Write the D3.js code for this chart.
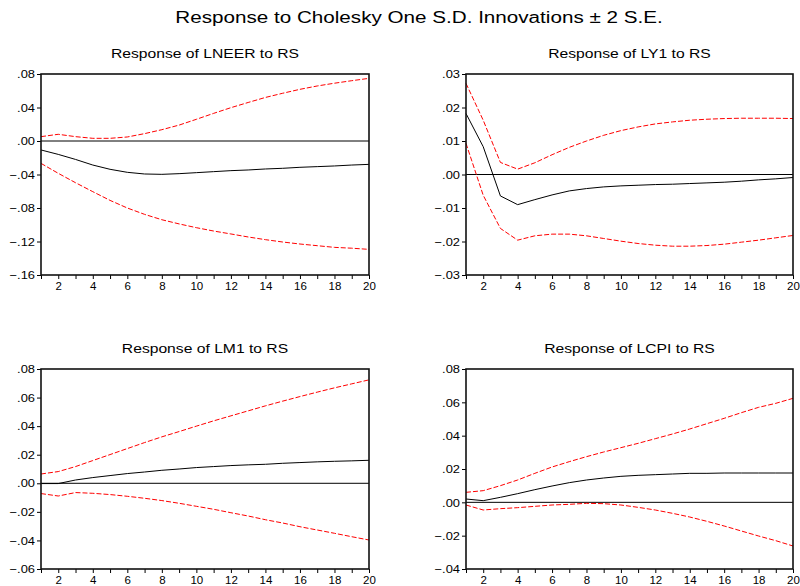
<!DOCTYPE html>
<html>
<head>
<meta charset="utf-8">
<script src="https://cdn.jsdelivr.net/npm/d3@7"></script>
<style>
  body { margin: 0; background: #fff; }
  svg { display: block; font-family: "Liberation Sans", Arial, sans-serif; }
</style>
</head>
<body>
<div id="content"></div>
<script>
// Screen dimensions
var w = 800;
var h = 586;

// periods 1..20
var periods = d3.range(1, 21);

// Response of LNEER to RS
var lneerResp = [-0.0107, -0.016, -0.022, -0.0287, -0.0338, -0.0374, -0.0394, -0.0398, -0.039, -0.0378,
                 -0.0366, -0.0354, -0.0346, -0.0334, -0.0326, -0.0314, -0.0306, -0.0298, -0.0287, -0.0279];
var lneerUp   = [0.0052, 0.008, 0.0052, 0.0032, 0.0032, 0.0048, 0.0088, 0.0135, 0.019, 0.0259,
                 0.033, 0.0398, 0.046, 0.052, 0.057, 0.0617, 0.0657, 0.069, 0.072, 0.0748];
var lneerLo   = [-0.0267, -0.0386, -0.0498, -0.0605, -0.0709, -0.080, -0.0876, -0.094, -0.099, -0.1035,
                 -0.1075, -0.111, -0.1146, -0.1178, -0.1206, -0.123, -0.125, -0.127, -0.128, -0.1294];

// Response of LY1 to RS
var ly1Resp = [0.0182, 0.0083, -0.0064, -0.009, -0.0075, -0.0061, -0.0049, -0.0042, -0.0037, -0.0034,
               -0.0032, -0.003, -0.0029, -0.0027, -0.0025, -0.0023, -0.002, -0.0016, -0.0013, -0.0009];
var ly1Up   = [0.0272, 0.0162, 0.0036, 0.0016, 0.0035, 0.0059, 0.0081, 0.010, 0.0117, 0.0131,
               0.0142, 0.0151, 0.0157, 0.0162, 0.0165, 0.0167, 0.0168, 0.0168, 0.0168, 0.0167];
var ly1Lo   = [0.0093, -0.0062, -0.0161, -0.0196, -0.0183, -0.0178, -0.0178, -0.0183, -0.0191, -0.0199,
               -0.0206, -0.0211, -0.0214, -0.0214, -0.0212, -0.0208, -0.0202, -0.0196, -0.0189, -0.0182];

// Response of LM1 to RS
var lm1Resp = [-0.0002, -0.0002, 0.0023, 0.004, 0.0054, 0.0068, 0.0079, 0.0091, 0.010, 0.011,
               0.0117, 0.0124, 0.0129, 0.0133, 0.014, 0.0145, 0.015, 0.0154, 0.0157, 0.0161];
var lm1Up   = [0.0065, 0.0082, 0.0117, 0.0159, 0.0201, 0.0243, 0.0285, 0.0325, 0.0362, 0.040,
               0.0437, 0.0472, 0.0507, 0.0542, 0.0575, 0.0607, 0.0638, 0.0668, 0.0696, 0.0724];
var lm1Lo   = [-0.0072, -0.0089, -0.0065, -0.007, -0.0079, -0.0091, -0.0105, -0.0121, -0.014, -0.0161,
               -0.0182, -0.0206, -0.0229, -0.0255, -0.0278, -0.0304, -0.0327, -0.035, -0.0374, -0.0397];

// Response of LCPI to RS
var lcpiResp = [0.002, 0.001, 0.003, 0.0052, 0.0076, 0.0098, 0.0118, 0.0134, 0.0146, 0.0156,
                0.0162, 0.0166, 0.017, 0.0174, 0.0174, 0.0176, 0.0176, 0.0176, 0.0176, 0.0176];
var lcpiUp   = [0.006, 0.007, 0.010, 0.0134, 0.0174, 0.0212, 0.0244, 0.0274, 0.0302, 0.0328,
                0.0354, 0.0382, 0.041, 0.044, 0.0472, 0.0504, 0.0538, 0.057, 0.0594, 0.0624];
var lcpiLo   = [-0.0016, -0.0046, -0.0038, -0.0032, -0.0024, -0.0016, -0.0012, -0.0006, -0.0008, -0.0016,
                -0.003, -0.0046, -0.0066, -0.0088, -0.0114, -0.0142, -0.0172, -0.0202, -0.023, -0.0262];

// panel titles and y tick values
var titles = ["Response of LNEER to RS", "Response of LY1 to RS", "Response of LM1 to RS", "Response of LCPI to RS"];
var yTicks1 = [-0.16, -0.12, -0.08, -0.04, 0, 0.04, 0.08];
var yTicks2 = [-0.03, -0.02, -0.01, 0, 0.01, 0.02, 0.03];
var yTicks3 = [-0.06, -0.04, -0.02, 0, 0.02, 0.04, 0.06, 0.08];
var yTicks4 = [-0.04, -0.02, 0, 0.02, 0.04, 0.06, 0.08];

var panels = [
  { title: titles[0], resp: lneerResp, up: lneerUp, lo: lneerLo, ticks: yTicks1, x0: 41,  x1: 369, y0: 74,  y1: 275 },
  { title: titles[1], resp: ly1Resp,   up: ly1Up,   lo: ly1Lo,   ticks: yTicks2, x0: 466, x1: 793, y0: 74,  y1: 275 },
  { title: titles[2], resp: lm1Resp,   up: lm1Up,   lo: lm1Lo,   ticks: yTicks3, x0: 41,  x1: 369, y0: 369, y1: 569 },
  { title: titles[3], resp: lcpiResp,  up: lcpiUp,  lo: lcpiLo,  ticks: yTicks4, x0: 466, x1: 793, y0: 369, y1: 569 }
];

// Create svg canvas
var svg = d3.select("#content")
    .append("svg")
    .attr("width", w)
    .attr("height", h);

// stretch text horizontally, the way the original export looks
function stretch(sel, k) {
  sel.each(function() {
    var len = this.getComputedTextLength();
    if (len > 0) {
      d3.select(this)
        .attr("textLength", len * k)
        .attr("lengthAdjust", "spacingAndGlyphs");
    }
  });
}

// main title
svg.append("text")
   .attr("x", 419)
   .attr("y", 23)
   .attr("text-anchor", "middle")
   .attr("font-size", 16)
   .text("Response to Cholesky One S.D. Innovations \u00b1 2 S.E.")
   .call(stretch, 1.29);

var fmt = function(v) {
  return d3.format(".2f")(v).replace("0.", ".");
};

panels.forEach(function(p) {
  var x = d3.scaleLinear().domain([1, 20]).range([p.x0, p.x1]);
  var y = d3.scaleLinear().domain(d3.extent(p.ticks)).range([p.y1, p.y0]);
  var g = svg.append("g");

  // panel title
  g.append("text")
   .attr("x", (p.x0 + p.x1) / 2)
   .attr("y", p.y0 - 16)
   .attr("text-anchor", "middle")
   .attr("font-size", 13.5)
   .text(p.title)
   .call(stretch, 1.16);

  // zero line
  g.append("line")
   .attr("x1", p.x0).attr("x2", p.x1)
   .attr("y1", y(0)).attr("y2", y(0))
   .attr("stroke", "#000")
   .attr("stroke-width", 1);

  var line = d3.line()
    .x(function(d, i) { return x(periods[i]); })
    .y(function(d) { return y(d); });

  [p.up, p.lo].forEach(function(band) {
    g.append("path")
     .attr("d", line(band))
     .attr("fill", "none")
     .attr("stroke", "#ff0000")
     .attr("stroke-width", 1)
     .attr("stroke-dasharray", "5,2");
  });

  g.append("path")
   .attr("d", line(p.resp))
   .attr("fill", "none")
   .attr("stroke", "#000")
   .attr("stroke-width", 1);

  // axes
  var xAxis = d3.axisBottom(x)
    .tickValues(periods)
    .tickSize(4)
    .tickPadding(3)
    .tickFormat(function(d) { return d % 2 === 0 ? d : ""; });
  var gx = g.append("g")
    .attr("transform", "translate(0," + p.y1 + ")")
    .call(xAxis);

  var yAxis = d3.axisLeft(y)
    .tickValues(p.ticks)
    .tickSize(4)
    .tickPadding(2)
    .tickFormat(fmt);
  var gy = g.append("g")
    .attr("transform", "translate(" + p.x0 + ",0)")
    .call(yAxis);

  [gx, gy].forEach(function(a) {
    a.select(".domain").remove();
    a.selectAll("text").attr("font-size", 11.5).attr("fill", "#000")
      .attr("font-family", "Liberation Sans, Arial, sans-serif");
    a.selectAll("line").attr("stroke", "#000");
  });
  gy.selectAll("text").call(stretch, 1.12);

  // frame
  g.append("rect")
   .attr("x", p.x0).attr("y", p.y0)
   .attr("width", p.x1 - p.x0).attr("height", p.y1 - p.y0)
   .attr("fill", "none")
   .attr("stroke", "#111")
   .attr("stroke-width", 1.6);
});
</script>
</body>
</html>
